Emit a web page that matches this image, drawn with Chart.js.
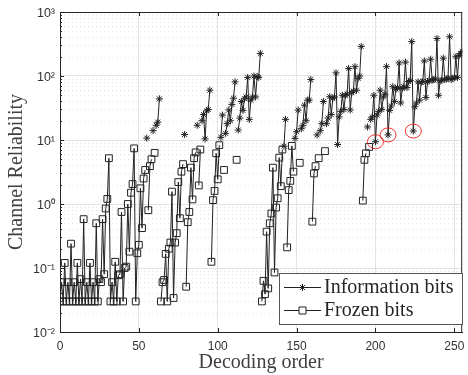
<!DOCTYPE html>
<html>
<head>
<meta charset="utf-8">
<script src="https://cdn.jsdelivr.net/npm/chart.js@4.4.0/dist/chart.umd.min.js"></script>
<style>
  html, body { margin: 0; padding: 0; background: #fff; }
  canvas { display: block; }
</style>
</head>
<body>
<canvas id="reliability-chart" width="468" height="375"></canvas>
<script>
// channel reliability per decoding order index (0..255)
const reliability = [
  // 0-15
  0.03, 0.06, 0.03, 0.12, 0.03, 0.06, 0.03, 0.24, 0.03, 0.06, 0.03, 0.12, 0.03, 0.067, 0.03, 0.58,
  // 16-31
  0.03, 0.06, 0.03, 0.12, 0.03, 0.06, 0.03, 0.5, 0.03, 0.067, 0.06, 0.58, 0.08, 0.85, 1.2, 5.2,
  // 32-47
  0.03, 0.06, 0.03, 0.125, 0.03, 0.077, 0.08, 0.75, 0.03, 0.1, 0.105, 1.0, 0.18, 1.5, 2.05, 7.4,
  // 48-63
  0.03, 0.17, 0.23, 1.76, 0.42, 2.5, 3.4, 10.7, 0.8, 3.9, 5.0, 14, 6.3, 17, 19, 44,
  // 64-79
  0.03, 0.06, 0.065, 0.166, 0.03, 0.2, 0.25, 1.56, 0.034, 0.25, 0.35, 2.2, 0.6, 3.2, 4.2, 12.2,
  // 80-95
  0.051, 0.52, 0.75, 3.7, 1.18, 5.2, 6.4, 17, 1.95, 7.1, 20, 25, 10.4, 28.6, 30, 60,
  // 96-111
  0.125, 1.15, 1.6, 6.2, 2.43, 8.3, 11, 24.5, 3.4, 12.7, 18, 29.4, 20, 36, 45, 81,
  // 112-127
  4.9, 14.3, 22, 40, 29, 44, 47, 95, 21, 42, 47, 100, 47, 98, 95, 225,
  // 128-143
  0.03, 0.063, 0.039, 0.37, 0.048, 0.5, 0.71, 3.7, 0.085, 0.88, 1.23, 5.3, 1.9, 7.1, 8, 21,
  // 144-159
  0.21, 1.65, 2.3, 8.1, 3.2, 10.6, 13.5, 29.4, 4.4, 15, 17, 35, 20, 42, 42, 88,
  // 160-175
  0.53, 3.0, 3.9, 12, 5.2, 14, 18, 40, 6.7, 18, 22, 47.5, 25, 45, 47, 112,
  // 176-191
  8.5, 23, 28, 50, 30, 50, 52, 131, 29.4, 55, 58, 140, 60, 92, 100, 290,
  // 192-207
  1.13, 4.9, 6.2, 16, 7.8, 21, 23, 50, 9.4, 24.5, 28, 60, 30, 47, 52, 140,
  // 208-223
  12, 29, 34, 68, 40, 62, 66, 160, 38, 64, 68, 165, 66, 82, 85, 345,
  // 224-239
  13.8, 33, 38, 81, 42, 80, 82, 172, 46, 82, 84, 183, 86, 88, 90, 385,
  // 240-255
  50, 84, 86, 190, 88, 90, 92, 410, 88, 92, 94, 200, 95, 210, 225, 240
];

// index ranges (inclusive) of the frozen bits, everything else is an information bit
const frozenRanges = [
  [0, 54], [56, 58], [60, 60], [64, 78], [80, 86], [88, 89], [96, 101], [104, 104], [112, 112],
  [128, 141], [144, 148], [152, 152], [160, 162], [164, 164], [168, 168], [192, 194], [196, 196]
];

// info bits marked with red circles
const circledIdx = [200, 208, 224];

const xTicks = [0, 50, 100, 150, 200, 250];
const yTicks = [0.01, 0.1, 1, 10, 100, 1000];
const yTickLabels = ['10⁻²', '10⁻¹', '10⁰', '10¹', '10²', '10³'];

function isFrozen(i) {
  return frozenRanges.some(r => i >= r[0] && i <= r[1]);
}

const infoPoints = reliability.map((v, i) => ({ x: i, y: isFrozen(i) ? null : v }));
const frozenPoints = reliability.map((v, i) => ({ x: i, y: isFrozen(i) ? v : null }));

const serif = "'Liberation Serif', 'Times New Roman', serif";
const sans = "'Liberation Sans', Arial, sans-serif";

// MATLAB style extras: minor grid, inner ticks, box, circles and the legend box
const matlabAxes = {
  id: 'matlabAxes',
  beforeDatasetsDraw(chart) {
    const { ctx, chartArea: a, scales: { y } } = chart;
    ctx.save();
    ctx.strokeStyle = '#e2e2e2';
    ctx.lineWidth = 1;
    ctx.setLineDash([1, 3]);
    for (let e = -2; e < 3; e++) {
      for (let k = 2; k <= 9; k++) {
        const py = Math.round(y.getPixelForValue(k * Math.pow(10, e))) + 0.5;
        ctx.beginPath();
        ctx.moveTo(a.left, py);
        ctx.lineTo(a.right, py);
        ctx.stroke();
      }
    }
    ctx.restore();
  },
  afterDatasetsDraw(chart) {
    const { ctx, chartArea: a, scales: { x, y } } = chart;
    ctx.save();
    ctx.strokeStyle = '#262626';
    ctx.lineWidth = 1;
    ctx.beginPath();
    // box
    ctx.moveTo(a.left, a.top + 0.5);
    ctx.lineTo(a.right, a.top + 0.5);
    ctx.moveTo(a.right - 0.5, a.top);
    ctx.lineTo(a.right - 0.5, a.bottom);
    // x ticks inside (bottom and top)
    xTicks.forEach(v => {
      const px = Math.round(x.getPixelForValue(v)) + 0.5;
      ctx.moveTo(px, a.bottom);
      ctx.lineTo(px, a.bottom - 4);
      ctx.moveTo(px, a.top);
      ctx.lineTo(px, a.top + 4);
    });
    // y ticks inside, major and minor
    for (let e = -2; e < 3; e++) {
      for (let k = 1; k <= 9; k++) {
        const py = Math.round(y.getPixelForValue(k * Math.pow(10, e))) + 0.5;
        const len = k === 1 ? 4 : 2;
        ctx.moveTo(a.left, py);
        ctx.lineTo(a.left + len, py);
      }
    }
    ctx.stroke();

    // red circles
    ctx.strokeStyle = '#f03030';
    circledIdx.forEach(i => {
      const px = x.getPixelForValue(i);
      const py = y.getPixelForValue(reliability[i]);
      ctx.beginPath();
      ctx.ellipse(px, py, 8, 7, 0, 0, Math.PI * 2);
      ctx.stroke();
    });

    // legend
    const bx = 279.5, by = 273.5, bw = 183, bh = 51;
    ctx.fillStyle = '#fff';
    ctx.fillRect(bx, by, bw, bh);
    ctx.strokeStyle = '#555';
    ctx.strokeRect(bx, by, bw, bh);
    const rows = [287.5, 310.5];
    chart.data.datasets.forEach((ds, n) => {
      const ry = rows[n];
      ctx.strokeStyle = '#222';
      ctx.beginPath();
      ctx.moveTo(284, ry);
      ctx.lineTo(321, ry);
      ctx.stroke();
      const mx = 302.5;
      ctx.beginPath();
      if (ds.pointStyle === 'star') {
        const r = 3.5;
        for (let t = 0; t < 4; t++) {
          const ang = t * Math.PI / 4;
          ctx.moveTo(mx - Math.cos(ang) * r, ry - Math.sin(ang) * r);
          ctx.lineTo(mx + Math.cos(ang) * r, ry + Math.sin(ang) * r);
        }
      } else {
        ctx.fillStyle = '#fff';
        ctx.fillRect(mx - 3.5, ry - 3.5, 7, 7);
        ctx.rect(mx - 3.5, ry - 3.5, 7, 7);
      }
      ctx.stroke();
      ctx.fillStyle = '#262626';
      ctx.font = '20px ' + serif;
      ctx.textBaseline = 'middle';
      ctx.textAlign = 'left';
      ctx.fillText(ds.label, 324, ry);
    });
    ctx.restore();
  }
};

const ctxEl = document.getElementById('reliability-chart');
const reliabilityChart = new Chart(ctxEl, {
  type: 'line',
  data: {
    datasets: [{
      label: 'Information bits',
      data: infoPoints,
      borderColor: '#222',
      borderWidth: 1,
      pointStyle: 'star',
      pointRadius: 3.5,
      pointBorderColor: '#222',
      pointBorderWidth: 1,
      pointBackgroundColor: 'rgba(0,0,0,0)',
      fill: false,
      tension: 0,
      spanGaps: false
    }, {
      label: 'Frozen bits',
      data: frozenPoints,
      borderColor: '#222',
      borderWidth: 1,
      pointStyle: 'rect',
      pointRadius: 4.8,
      pointBorderColor: '#222',
      pointBorderWidth: 1,
      pointBackgroundColor: 'rgba(255,255,255,0)',
      fill: false,
      tension: 0,
      spanGaps: false
    }]
  },
  options: {
    responsive: false,
    animation: false,
    events: [],
    layout: { padding: { top: 12, right: 0, left: 0, bottom: 0 } },
    plugins: {
      legend: { display: false },
      tooltip: { enabled: false }
    },
    scales: {
      x: {
        type: 'linear',
        min: 0,
        max: 255,
        afterBuildTicks: s => { s.ticks = xTicks.map(v => ({ value: v })); },
        afterFit: s => { s.height = 43; s.paddingLeft = 0; s.paddingRight = 0; },
        grid: { color: '#e3e3e3', drawTicks: false },
        border: { color: '#262626', width: 1 },
        ticks: { padding: 7, color: '#333', font: { family: sans, size: 12 } },
        title: {
          display: true,
          text: 'Decoding order',
          color: '#404040',
          font: { family: serif, size: 20 },
          padding: { top: 0, bottom: 0 }
        }
      },
      y: {
        type: 'logarithmic',
        min: 0.01,
        max: 1000,
        afterBuildTicks: s => { s.ticks = yTicks.map(v => ({ value: v, major: true })); },
        afterFit: s => { s.width = 60; s.paddingTop = 0; s.paddingBottom = 0; },
        grid: { color: '#e3e3e3', drawTicks: false },
        border: { color: '#262626', width: 1 },
        ticks: {
          padding: 5,
          labelOffset: 2,
          color: '#333',
          font: { family: sans, size: 12.5 },
          callback: (v, i) => yTickLabels[i]
        },
        title: {
          display: true,
          text: 'Channel Reliability',
          color: '#404040',
          font: { family: serif, size: 20 },
          padding: { top: 5, bottom: 0 }
        }
      }
    }
  },
  plugins: [matlabAxes]
});
</script>
</body>
</html>
